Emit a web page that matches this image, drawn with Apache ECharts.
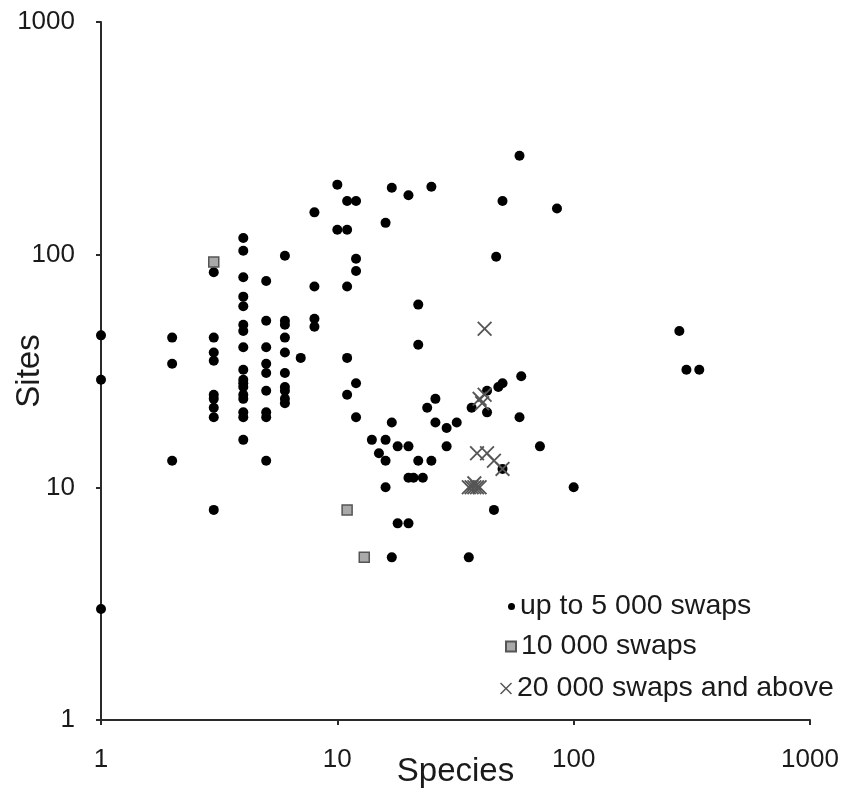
<!DOCTYPE html>
<html>
<head>
<meta charset="utf-8">
<script src="https://cdn.jsdelivr.net/npm/echarts@6/dist/echarts.min.js"></script>
<style>
  html, body { margin: 0; padding: 0; background: #fff; }
  #chart { width: 846px; height: 798px; }
</style>
</head>
<body>
<div id="chart"></div>
<script>
// Axis ticks (log scale, both axes)
const axisTicks = [1, 10, 100, 1000];
const xAxisTitle = 'Species';
const yAxisTitle = 'Sites';
const seriesNames = ['up to 5 000 swaps', '10 000 swaps', '20 000 swaps and above'];

// [species, sites] — up to 5 000 swaps
const dotPoints = [
  [1, 45], [1, 29], [1, 3],
  [2, 44], [2, 34], [2, 13],
  [3, 84], [3, 44], [3, 38], [3, 35], [3, 25], [3, 24], [3, 22], [3, 20], [3, 8],
  [4, 118], [4, 104], [4, 80], [4, 66], [4, 60], [4, 50], [4, 47], [4, 40], [4, 32],
  [4, 29], [4, 28], [4, 27], [4, 25], [4, 24], [4, 21], [4, 20], [4, 16],
  [5, 77], [5, 52], [5, 40], [5, 34], [5, 31], [5, 26], [5, 21], [5, 20], [5, 13],
  [6, 99], [6, 52], [6, 50], [6, 44], [6, 38], [6, 31], [6, 27], [6, 26], [6, 24], [6, 23],
  [7, 36],
  [8, 152], [8, 73], [8, 53], [8, 49],
  [10, 200], [10, 128],
  [11, 170], [11, 128], [11, 73], [11, 36], [11, 25],
  [12, 170], [12, 96], [12, 85], [12, 28], [12, 20],
  [14, 16], [15, 14],
  [16, 137], [16, 16], [16, 13], [16, 10],
  [17, 194], [17, 19], [17, 5],
  [18, 15], [18, 7],
  [20, 180], [20, 15], [20, 11], [20, 7],
  [21, 11],
  [22, 61], [22, 41], [22, 13],
  [23, 11], [24, 22],
  [25, 196], [25, 13],
  [26, 24], [26, 19],
  [29, 18], [29, 15], [32, 19],
  [36, 5], [37, 22],
  [43, 26], [43, 21],
  [46, 8], [47, 98], [48, 27],
  [50, 170], [50, 28], [50, 12],
  [59, 266], [59, 20], [60, 30],
  [72, 15], [85, 158], [100, 10],
  [280, 47], [300, 32], [340, 32]
];

// 10 000 swaps
const squarePoints = [[3, 93], [11, 8], [13, 5]];

// 20 000 swaps and above
const crossPoints = [
  [42, 48],
  [40, 24], [42, 25], [41, 23],
  [39, 14], [43, 14], [46, 13], [50, 12],
  [36, 10], [37, 10], [38, 10], [39, 10], [40, 10], [38, 10.4]
];

const crossPath = 'path://M0,1.2L1.2,0L7,5.8L12.8,0L14,1.2L8.2,7L14,12.8L12.8,14L7,8.2L1.2,14L0,12.8L5.8,7Z';
const font = '"Liberation Sans", Arial, Helvetica, sans-serif';
const textColor = '#1a1a1a';
const axisColor = '#2a2a2a';

function logAxis(name, isX) {
  return {
    type: 'log',
    logBase: 10,
    min: axisTicks[0],
    max: axisTicks[axisTicks.length - 1],
    name: name,
    nameLocation: 'middle',
    nameGap: isX ? 35 : 55,
    nameMoveOverlap: false,
    nameTextStyle: { fontFamily: font, fontSize: 33, color: textColor },
    axisLine: { show: true, onZero: false, lineStyle: { color: axisColor, width: 2 } },
    axisTick: { show: true, inside: false, length: 5, lineStyle: { color: axisColor, width: 2 } },
    minorTick: { show: false },
    splitLine: { show: false },
    axisLabel: {
      fontFamily: font, fontSize: 26, color: textColor,
      margin: isX ? 27 : 26,
      showMinLabel: true, showMaxLabel: true,
      formatter: function (v) { return String(Math.round(v)); }
    }
  };
}

const chart = echarts.init(document.getElementById('chart'), null, { renderer: 'canvas' });

const legendText = { fontFamily: font, fontSize: 28.5, color: textColor };

chart.setOption({
  animation: false,
  backgroundColor: '#ffffff',
  grid: { left: 101, right: 36, top: 22, bottom: 78, containLabel: false, outerBoundsMode: 'none' },
  xAxis: logAxis(xAxisTitle, true),
  yAxis: logAxis(yAxisTitle, false),
  legend: [
    { data: [seriesNames[0]], orient: 'vertical', left: 508, top: 592, padding: 0,
      itemWidth: 7, itemHeight: 7, icon: 'circle', textStyle: legendText, selectedMode: false },
    { data: [seriesNames[1]], orient: 'vertical', left: 505, top: 632, padding: 0,
      itemWidth: 10, itemHeight: 10, icon: 'rect', textStyle: legendText, selectedMode: false },
    { data: [seriesNames[2]], orient: 'vertical', left: 500, top: 674, padding: 0,
      itemWidth: 12, itemHeight: 12, icon: crossPath, textStyle: legendText, selectedMode: false }
  ],
  series: [
    {
      name: seriesNames[0], type: 'scatter', data: dotPoints,
      symbol: 'circle', symbolSize: 10,
      itemStyle: { color: '#000000', opacity: 1 }, z: 2
    },
    {
      name: seriesNames[1], type: 'scatter', data: squarePoints,
      symbol: 'rect', symbolSize: 10,
      itemStyle: { color: '#a9a9a9', borderColor: '#555555', borderWidth: 1.5, opacity: 1 }, z: 3
    },
    {
      name: seriesNames[2], type: 'scatter', data: crossPoints,
      symbol: crossPath, symbolSize: 15,
      itemStyle: { color: '#555555', opacity: 1 }, z: 4
    }
  ]
});
</script>
</body>
</html>
